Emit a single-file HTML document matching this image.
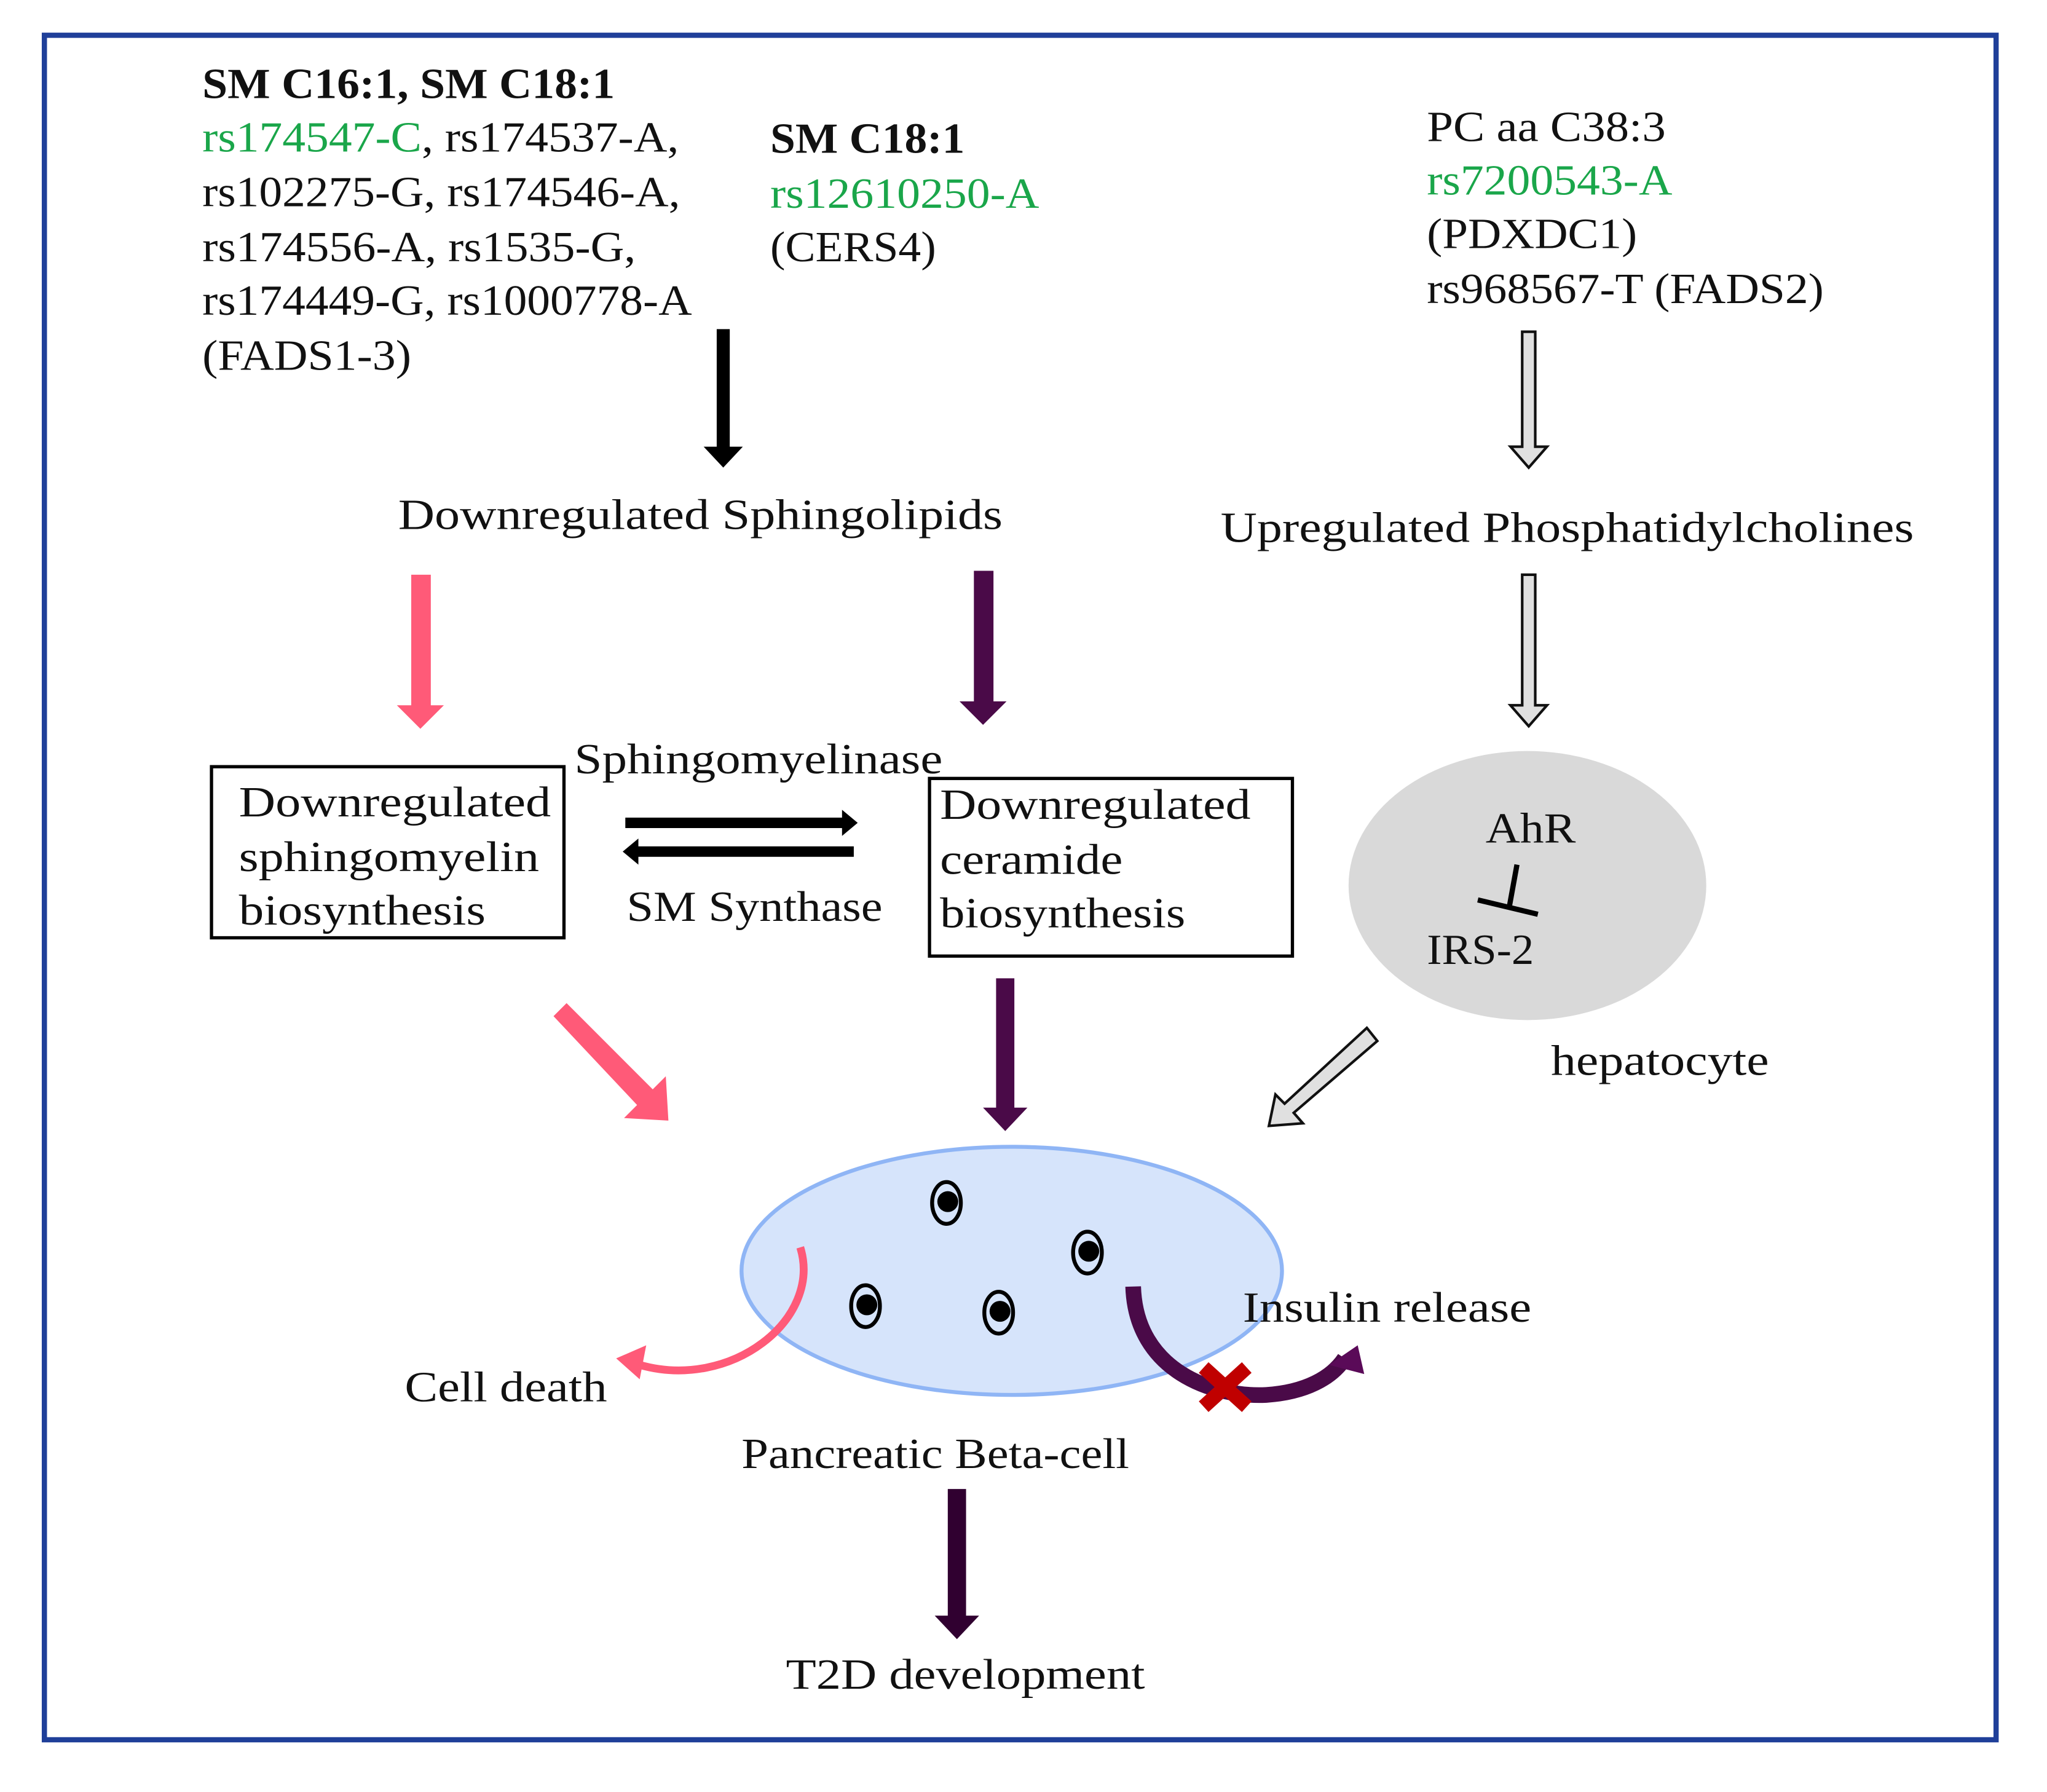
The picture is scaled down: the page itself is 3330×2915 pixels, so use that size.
<!DOCTYPE html>
<html><head><meta charset="utf-8"><style>
html,body{margin:0;padding:0;background:#fff;}
svg{display:block;}
text{font-family:"Liberation Serif",serif;font-size:33px;fill:#111;}
.b{font-weight:bold;}
.g{fill:#1aa64a;}
</style></head><body>
<svg width="3330" height="2915" viewBox="0 0 1568 1372" preserveAspectRatio="none" xmlns="http://www.w3.org/2000/svg">
<rect x="34" y="27" width="1495" height="1305" fill="none" stroke="#1f3f99" stroke-width="4"/>

<text x="155" y="75" class="b" textLength="316" lengthAdjust="spacingAndGlyphs">SM C16:1, SM C18:1</text>
<text x="155" y="116" class="g" textLength="168" lengthAdjust="spacingAndGlyphs">rs174547-C</text>
<text x="323" y="116" textLength="197" lengthAdjust="spacingAndGlyphs">, rs174537-A,</text>
<text x="155" y="158" textLength="366" lengthAdjust="spacingAndGlyphs">rs102275-G, rs174546-A,</text>
<text x="155" y="200" textLength="332" lengthAdjust="spacingAndGlyphs">rs174556-A, rs1535-G,</text>
<text x="155" y="241" textLength="375" lengthAdjust="spacingAndGlyphs">rs174449-G, rs1000778-A</text>
<text x="155" y="283" textLength="160" lengthAdjust="spacingAndGlyphs">(FADS1-3)</text>

<text x="590" y="117" class="b" textLength="149" lengthAdjust="spacingAndGlyphs">SM C18:1</text>
<text x="590" y="159" class="g" textLength="206" lengthAdjust="spacingAndGlyphs">rs12610250-A</text>
<text x="590" y="200" textLength="127" lengthAdjust="spacingAndGlyphs">(CERS4)</text>

<text x="1093" y="108" textLength="183" lengthAdjust="spacingAndGlyphs">PC aa C38:3</text>
<text x="1093" y="149" class="g" textLength="188" lengthAdjust="spacingAndGlyphs">rs7200543-A</text>
<text x="1093" y="190" textLength="161" lengthAdjust="spacingAndGlyphs">(PDXDC1)</text>
<text x="1093" y="232" textLength="304" lengthAdjust="spacingAndGlyphs">rs968567-T (FADS2)</text>

<polygon points="549,252 559,252 559,342 569,342 554,358 539,342 549,342" fill="#000"/>
<polygon points="1166,254 1176,254 1176,342 1185,342 1171,358 1157,342 1166,342" fill="#e0e0e0" stroke="#111" stroke-width="2"/>
<polygon points="1166,440 1176,440 1176,540 1185,540 1171,556 1157,540 1166,540" fill="#e0e0e0" stroke="#111" stroke-width="2"/>

<text x="305" y="405" textLength="463" lengthAdjust="spacingAndGlyphs">Downregulated Sphingolipids</text>
<text x="935" y="415" textLength="531" lengthAdjust="spacingAndGlyphs">Upregulated Phosphatidylcholines</text>

<polygon points="315,440 330,440 330,540 340,540 322,558 304,540 315,540" fill="#ff5a78"/>
<polygon points="746,437 761,437 761,537 771,537 753,555 735,537 746,537" fill="#4a0a48"/>

<rect x="162" y="587" width="270" height="131" fill="none" stroke="#000" stroke-width="2.5"/>
<text x="183" y="625" textLength="239" lengthAdjust="spacingAndGlyphs">Downregulated</text>
<text x="183" y="667" textLength="230" lengthAdjust="spacingAndGlyphs">sphingomyelin</text>
<text x="183" y="708" textLength="189" lengthAdjust="spacingAndGlyphs">biosynthesis</text>

<text x="440" y="592" textLength="282" lengthAdjust="spacingAndGlyphs">Sphingomyelinase</text>
<polygon points="479,626 645,626 645,620 657,630 645,640 645,634 479,634" fill="#000"/>
<polygon points="654,648 489,648 489,642 477,652 489,662 489,656 654,656" fill="#000"/>
<text x="480" y="705" textLength="196" lengthAdjust="spacingAndGlyphs">SM Synthase</text>

<rect x="712" y="596" width="278" height="136" fill="none" stroke="#000" stroke-width="2.5"/>
<text x="720" y="627" textLength="238" lengthAdjust="spacingAndGlyphs">Downregulated</text>
<text x="720" y="669" textLength="140" lengthAdjust="spacingAndGlyphs">ceramide</text>
<text x="720" y="710" textLength="188" lengthAdjust="spacingAndGlyphs">biosynthesis</text>

<ellipse cx="1170" cy="678" rx="137" ry="103" fill="#d9d9d9"/>
<text x="1138" y="645" textLength="69" lengthAdjust="spacingAndGlyphs">AhR</text>
<line x1="1162" y1="662" x2="1156" y2="695" stroke="#000" stroke-width="4"/>
<line x1="1132" y1="689" x2="1178" y2="700" stroke="#000" stroke-width="4"/>
<text x="1093" y="738" textLength="82" lengthAdjust="spacingAndGlyphs">IRS-2</text>
<text x="1188" y="823" textLength="167" lengthAdjust="spacingAndGlyphs">hepatocyte</text>

<polygon points="424,778 434,768 500,834 510,824 512,858 478,856 488,846" fill="#ff5a78"/>
<polygon points="763,749 777,749 777,848 787,848 770,866 753,848 763,848" fill="#4a0a48"/>
<polygon points="1047,787 1055,797 991,852 998,860 972,862 977,838 984,845" fill="#e0e0e0" stroke="#111" stroke-width="2"/>

<ellipse cx="775" cy="973" rx="207" ry="95" fill="#d6e4fb" stroke="#8fb5f5" stroke-width="3"/>
<g fill="none" stroke="#000" stroke-width="3">
<ellipse cx="725" cy="921" rx="11" ry="16"/>
<ellipse cx="833" cy="959" rx="11" ry="16"/>
<ellipse cx="663" cy="1000" rx="11" ry="16"/>
<ellipse cx="765" cy="1005" rx="11" ry="16"/>
</g>
<g fill="#000">
<circle cx="726" cy="920" r="8"/><circle cx="834" cy="958" r="8"/><circle cx="664" cy="999" r="8"/><circle cx="766" cy="1004" r="8"/>
</g>

<path d="M613,955 C630,1010 560,1065 490,1045" fill="none" stroke="#ff5a78" stroke-width="6"/>
<polygon points="472,1040 495,1030 490,1056" fill="#ff5a78"/>

<path d="M868,985 C870,1050 930,1070 970,1068 C1000,1066 1020,1055 1030,1040" fill="none" stroke="#4a0a48" stroke-width="12"/>
<polygon points="1040,1030 1045,1052 1018,1045" fill="#5a0a58"/>
<g stroke="#c00000" stroke-width="11">
<line x1="922" y1="1047" x2="955" y2="1077"/><line x1="955" y1="1047" x2="922" y2="1077"/>
</g>

<text x="952" y="1012" textLength="221" lengthAdjust="spacingAndGlyphs">Insulin release</text>
<text x="310" y="1073" textLength="155" lengthAdjust="spacingAndGlyphs">Cell death</text>
<text x="568" y="1124" textLength="297" lengthAdjust="spacingAndGlyphs">Pancreatic Beta-cell</text>

<polygon points="726,1140 740,1140 740,1237 750,1237 733,1255 716,1237 726,1237" fill="#300030"/>
<text x="602" y="1293" textLength="275" lengthAdjust="spacingAndGlyphs">T2D development</text>
</svg>
</body></html>
